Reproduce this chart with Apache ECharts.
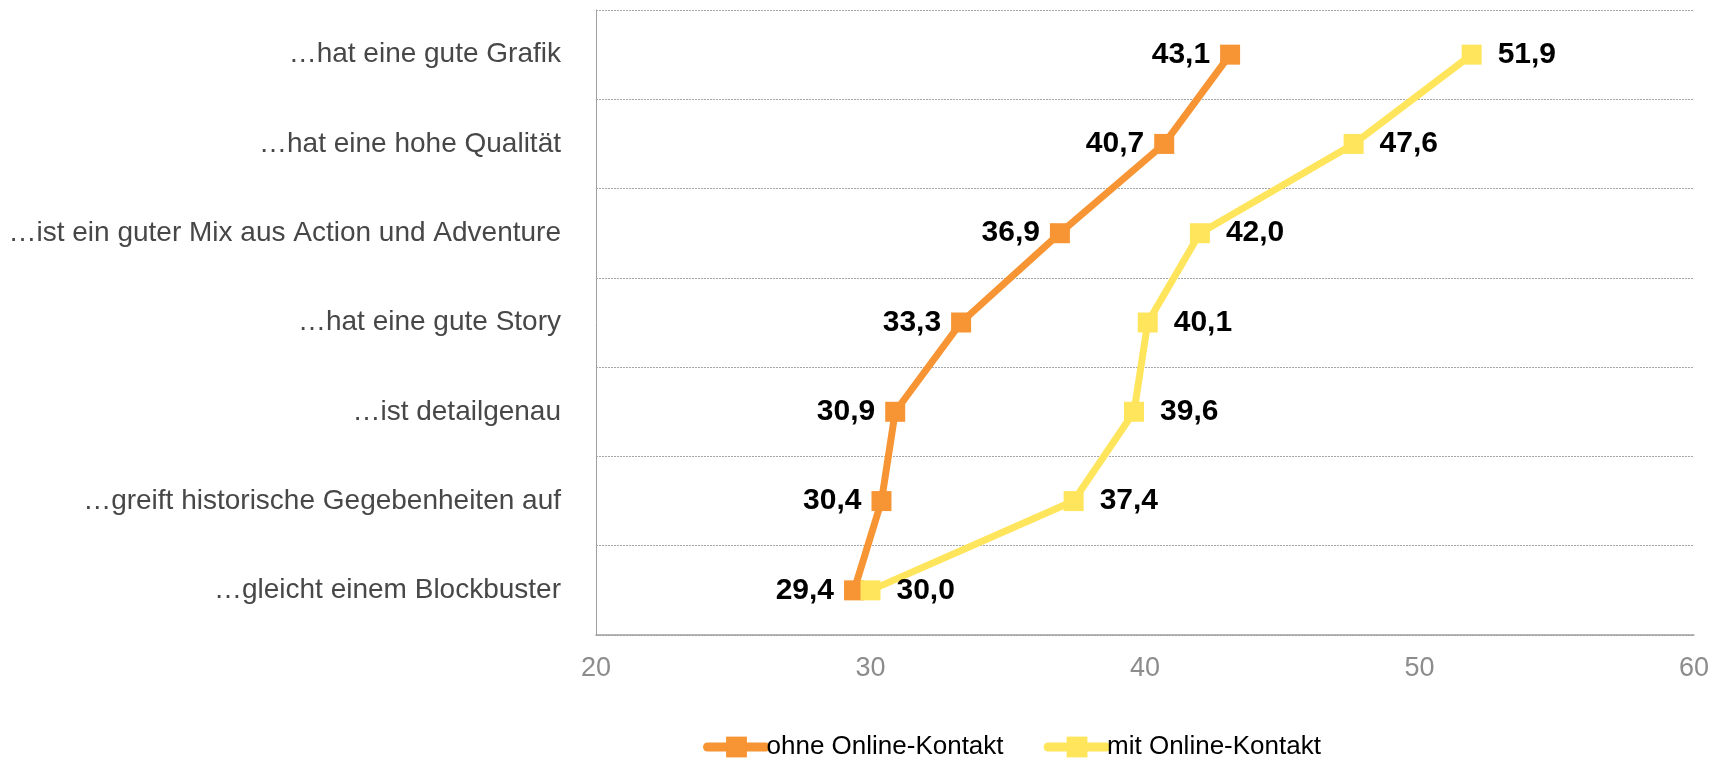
<!DOCTYPE html>
<html>
<head>
<meta charset="utf-8">
<script src="https://cdn.jsdelivr.net/npm/echarts@6/dist/echarts.min.js"></script>
<style>
  html, body { margin: 0; padding: 0; background: #fff; }
  #chart { width: 1721px; height: 758px; }
</style>
</head>
<body>
<div id="chart"></div>
<script>
// categories, top to bottom
const categories = [
  '…hat eine gute Grafik',
  '…hat eine hohe Qualität',
  '…ist ein guter Mix aus Action und Adventure',
  '…hat eine gute Story',
  '…ist detailgenau',
  '…greift historische Gegebenheiten auf',
  '…gleicht einem Blockbuster'
]
const ohneOnline = [43.1, 40.7, 36.9, 33.3, 30.9, 30.4, 29.4]
const mitOnline = [51.9, 47.6, 42.0, 40.1, 39.6, 37.4, 30.0]
const xTicks = { min: 20, max: 60, interval: 10 }

const FONT = 'Liberation Sans'
const fmt = (v) => v.toFixed(1).replace('.', ',')

const chart = echarts.init(document.getElementById('chart'), null, { renderer: 'canvas' })

const labelStyle = {
  show: true,
  fontFamily: FONT,
  fontWeight: 'bold',
  fontSize: 30,
  color: '#000',
  formatter: (p) => fmt(p.value[0])
}

chart.setOption({
  animation: false,
  textStyle: { fontFamily: FONT },
  grid: { left: 596, right: 27, top: 10, bottom: 123 },
  legend: {
    top: 729,
    left: 698,
    itemWidth: 58,
    itemHeight: 26,
    itemGap: 40,
    lineStyle: { width: 9, cap: 'round' },
    textStyle: { fontFamily: FONT, fontSize: 26, color: '#000', padding: [0, 0, 0, -4] },
    data: ['ohne Online-Kontakt', 'mit Online-Kontakt']
  },
  xAxis: {
    type: 'value',
    min: xTicks.min,
    max: xTicks.max,
    interval: xTicks.interval,
    axisLine: { show: true, lineStyle: { color: '#a0a0a0', width: 1.5 } },
    axisTick: { show: false },
    splitLine: { show: false },
    axisLabel: { fontFamily: FONT, color: '#8c8c8c', fontSize: 27, margin: 20 }
  },
  yAxis: {
    type: 'category',
    inverse: true,
    data: categories,
    axisLine: { show: true, lineStyle: { color: '#a0a0a0', width: 1 } },
    axisTick: { show: false },
    splitLine: { show: true, lineStyle: { color: '#a6a6a6', type: [2, 1], width: 1 } },
    axisLabel: { fontFamily: FONT, color: '#474747', fontSize: 28, margin: 35 }
  },
  series: [
    {
      name: 'ohne Online-Kontakt',
      type: 'line',
      data: ohneOnline.map((v, i) => [v, categories[i]]),
      symbol: 'rect',
      symbolSize: 20,
      lineStyle: { color: '#F79433', width: 7 },
      itemStyle: { color: '#F79433' },
      label: Object.assign({ position: 'left', distance: 10 }, labelStyle),
      z: 3
    },
    {
      name: 'mit Online-Kontakt',
      type: 'line',
      data: mitOnline.map((v, i) => [v, categories[i]]),
      symbol: 'rect',
      symbolSize: 20,
      lineStyle: { color: '#FFE55C', width: 7 },
      itemStyle: { color: '#FFE55C' },
      label: Object.assign({ position: 'right', distance: 16 }, labelStyle),
      z: 4
    }
  ]
})
</script>
</body>
</html>
